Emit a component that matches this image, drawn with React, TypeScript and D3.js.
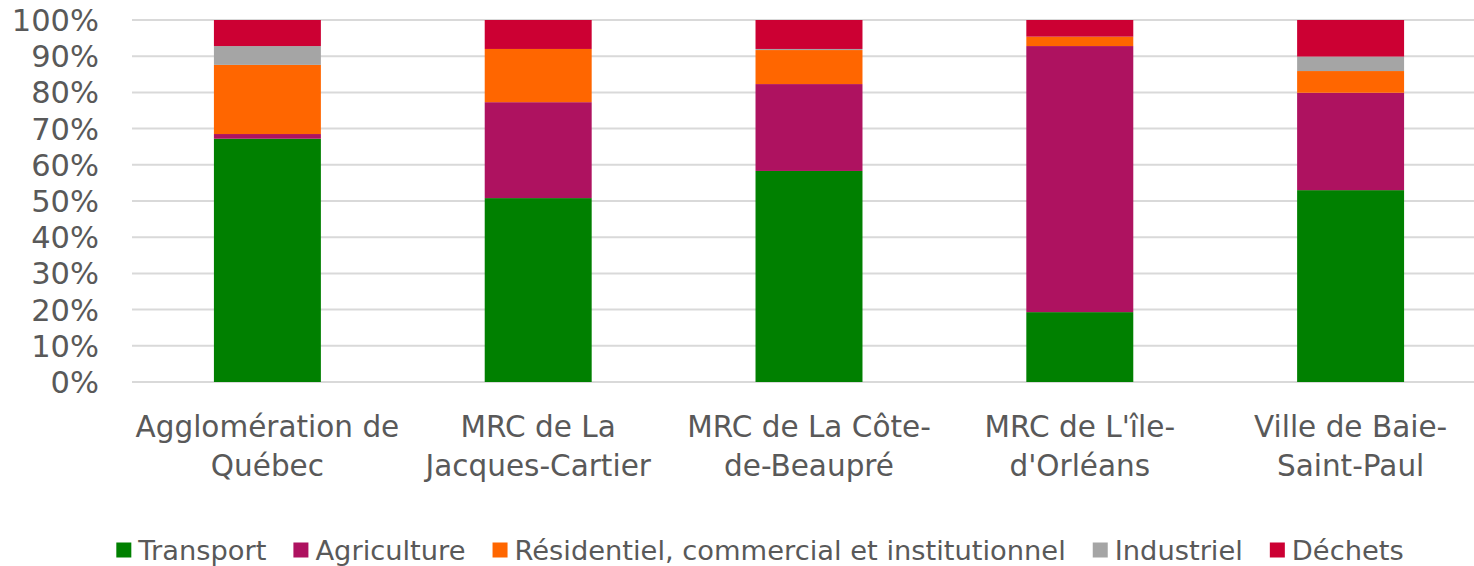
import React, { useEffect, useRef } from "react";
import * as d3 from "d3";

// regions (line break = how the axis label wraps)
const categories = [
  "Agglomération de\nQuébec",
  "MRC de La\nJacques-Cartier",
  "MRC de La Côte-\nde-Beaupré",
  "MRC de L'île-\nd'Orléans",
  "Ville de Baie-\nSaint-Paul",
];

// share of emissions per sector, in %
const transport = [67.2, 50.8, 58.3, 19.3, 53.0];
const agriculture = [1.3, 26.5, 24.0, 73.5, 26.9];
const residentiel = [19.1, 14.7, 9.4, 2.6, 6.0];
const industriel = [5.2, 0, 0.3, 0, 4.0];
const dechets = [7.2, 8.0, 8.0, 4.6, 10.1];

const seriesNames = [
  "Transport",
  "Agriculture",
  "Résidentiel, commercial et institutionnel",
  "Industriel",
  "Déchets",
];
const seriesColors = ["#008000", "#AE1260", "#FF6600", "#A5A5A5", "#CC0033"];

const yTicks = [0, 10, 20, 30, 40, 50, 60, 70, 80, 90, 100];

const width = 1474;
const height = 566;
const font = "'DejaVu Sans', sans-serif";
const textColor = "#595959";

export default function App() {
  const ref = useRef<SVGSVGElement>(null);

  useEffect(() => {
    const svg = d3.select(ref.current);
    svg.selectAll("*").remove();

    const rows = categories.map((c, i) => ({
      cat: c,
      [seriesNames[0]]: transport[i],
      [seriesNames[1]]: agriculture[i],
      [seriesNames[2]]: residentiel[i],
      [seriesNames[3]]: industriel[i],
      [seriesNames[4]]: dechets[i],
    }));

    const x = d3
      .scaleBand()
      .domain(categories)
      .range([132, 1486])
      .paddingInner(0.605)
      .paddingOuter(0.3025);
    const y = d3.scaleLinear().domain([0, 100]).range([382, 20]);

    // gridlines
    svg
      .append("g")
      .selectAll("line")
      .data(yTicks)
      .enter()
      .append("line")
      .attr("x1", 132)
      .attr("x2", width)
      .attr("y1", (d) => y(d))
      .attr("y2", (d) => y(d))
      .attr("stroke", "#D9D9D9")
      .attr("stroke-width", 2);

    // y labels
    svg
      .append("g")
      .selectAll("text")
      .data(yTicks)
      .enter()
      .append("text")
      .attr("x", 99)
      .attr("y", (d) => y(d))
      .attr("dy", "0.36em")
      .attr("text-anchor", "end")
      .attr("font-family", font)
      .attr("font-size", 30.5)
      .attr("fill", textColor)
      .text((d) => d + "%");

    // stacked bars
    const stacked = d3.stack<any>().keys(seriesNames)(rows);
    svg
      .append("g")
      .selectAll("g")
      .data(stacked)
      .enter()
      .append("g")
      .attr("fill", (_, i) => seriesColors[i])
      .selectAll("rect")
      .data((d) => d)
      .enter()
      .append("rect")
      .attr("x", (d: any) => x(d.data.cat)!)
      .attr("width", x.bandwidth())
      .attr("y", (d) => y(d[1]))
      .attr("height", (d) => y(d[0]) - y(d[1]));

    // category labels
    const labels = svg
      .append("g")
      .selectAll("text")
      .data(categories)
      .enter()
      .append("text")
      .attr("text-anchor", "middle")
      .attr("font-family", font)
      .attr("font-size", 29.5)
      .attr("fill", textColor)
      .attr("transform", (d) => `translate(${x(d)! + x.bandwidth() / 2}, 437)`);
    labels
      .selectAll("tspan")
      .data((d) => d.split("\n"))
      .enter()
      .append("tspan")
      .attr("x", 0)
      .attr("y", (_, i) => i * 39)
      .text((d) => d);

    // legend, laid out from measured text widths and centered
    const legend = svg.append("g");
    const items = legend
      .selectAll("g")
      .data(seriesNames)
      .enter()
      .append("g");
    items
      .append("rect")
      .attr("width", 15)
      .attr("height", 15)
      .attr("y", -7.5)
      .attr("fill", (_, i) => seriesColors[i]);
    items
      .append("text")
      .attr("x", 22)
      .attr("dy", "0.36em")
      .attr("font-family", font)
      .attr("font-size", 27.3)
      .attr("fill", textColor)
      .text((d) => d);
    let cursor = 0;
    const offsets: number[] = [];
    items.each(function () {
      const w = (d3.select(this).select("text").node() as SVGTextElement).getComputedTextLength();
      offsets.push(cursor);
      cursor += 22 + w + 27;
    });
    const total = cursor - 27;
    const start = 760 - total / 2;
    items.attr("transform", (_, i) => `translate(${start + offsets[i]}, 550)`);
  }, []);

  return (
    <svg
      ref={ref}
      width={width}
      height={height}
      style={{ position: "absolute", left: 0, top: 0, background: "#fff" }}
    />
  );
}
